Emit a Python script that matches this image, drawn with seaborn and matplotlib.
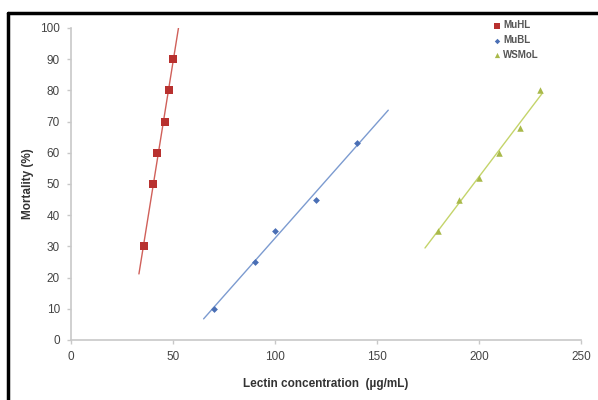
import numpy as np
import pandas as pd
import matplotlib
matplotlib.use("Agg")
import matplotlib.pyplot as plt
import seaborn as sns
from matplotlib.lines import Line2D

sns.set_style("white")
plt.rcParams['font.family'] = ['Liberation Sans', 'DejaVu Sans']

# data
muhl_x = [36, 40, 42, 46, 48, 50]
muhl_y = [30, 50, 60, 70, 80, 90]
mubl_x = [70, 90, 100, 120, 140]
mubl_y = [10, 25, 35, 45, 63]
wsmol_x = [180, 190, 200, 210, 220, 230]
wsmol_y = [35, 45, 52, 60, 68, 80]

# x span of each trend line
muhl_fit = [33.3, 53.2]
mubl_fit = [65, 155.5]
wsmol_fit = [173.5, 231]

names = ["MuHL", "MuBL", "WSMoL"]
colors = {"MuHL": "#B8312F", "MuBL": "#4A6FB5", "WSMoL": "#A9B94A"}
line_colors = {"MuHL": "#D0605A", "MuBL": "#7C9BD0", "WSMoL": "#C4D46A"}
markers = {"MuHL": "s", "MuBL": "D", "WSMoL": "^"}
sizes = {"MuHL": 30, "MuBL": 12, "WSMoL": 22}

series = {
    "MuHL": (muhl_x, muhl_y, muhl_fit),
    "MuBL": (mubl_x, mubl_y, mubl_fit),
    "WSMoL": (wsmol_x, wsmol_y, wsmol_fit),
}

fig = plt.figure(figsize=(5.98, 4.0), dpi=100)
ax = fig.add_axes([0.1187, 0.15, 0.853, 0.78])

for name in names:
    xs, ys, span = series[name]
    k, b = np.polyfit(xs, ys, 1)
    fx = np.array(span)
    fit = pd.DataFrame({"x": fx, "y": k * fx + b})
    sns.lineplot(data=fit, x="x", y="y", ax=ax, color=line_colors[name],
                 lw=1.0, legend=False)
    df = pd.DataFrame({"x": xs, "y": ys})
    sns.scatterplot(data=df, x="x", y="y", ax=ax, marker=markers[name],
                    color=colors[name], s=sizes[name], linewidth=0,
                    label=name, zorder=3)

ax.set_xlim(0, 250)
ax.set_ylim(0, 100)
ax.set_xticks(range(0, 251, 50))
ax.set_yticks(range(0, 101, 10))
for s in ["top", "right"]:
    ax.spines[s].set_visible(False)
for s in ["left", "bottom"]:
    ax.spines[s].set_color("#C8C8C8")
    ax.spines[s].set_linewidth(1.2)
ax.tick_params(axis="both", length=3, width=1, color="#C8C8C8",
               labelsize=8.5, labelcolor="#444444", pad=5, direction="out",
               bottom=True, left=True)
ax.set_xlabel("Lectin concentration  (µg/mL)", fontsize=8.5,
              fontweight="bold", color="#333333", labelpad=11)
ax.set_ylabel("Mortality (%)", fontsize=8.5, fontweight="bold",
              color="#333333", labelpad=4)

leg = ax.legend(loc="upper left", bbox_to_anchor=(0.825, 1.025), frameon=False,
                fontsize=7, handletextpad=0.2, labelspacing=0.5,
                handlelength=1.0, borderaxespad=0, borderpad=0,
                markerscale=0.8)
for t in leg.get_texts():
    t.set_fontweight("bold")
    t.set_color("#555555")

# partial black frame seen at the top and left of the image
fig.add_artist(Line2D([0.0135, 1.0], [0.967, 0.967], color="black", lw=2.5,
                      transform=fig.transFigure))
fig.add_artist(Line2D([0.0135, 0.0135], [0.0, 0.967], color="black", lw=2.5,
                      transform=fig.transFigure))

fig.savefig("out.png", dpi=100)
